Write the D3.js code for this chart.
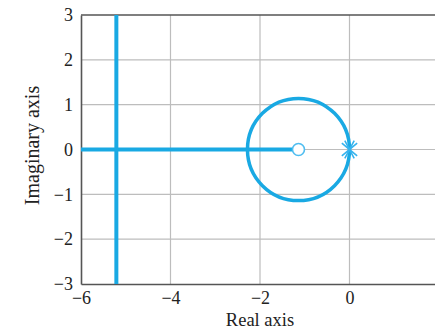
<!DOCTYPE html>
<html>
<head>
<meta charset="utf-8">
<script src="https://cdn.jsdelivr.net/npm/d3@7"></script>
<style>
  html, body { margin: 0; padding: 0; background: #fff; overflow: hidden; }
  svg { display: block; }
  text { font-family: "Liberation Serif", "DejaVu Serif", serif; fill: #222; }
</style>
</head>
<body>
<svg id="chart" width="435" height="331"></svg>
<script>
// Axis ticks
const xTicks = [-6, -4, -2, 0, 2];
const yTicks = [-3, -2, -1, 0, 1, 2, 3];

// Root locus branches (real, imaginary)
const realAxisBranch = [[-6, 0], [-1.14, 0]];
const verticalBranch = [[-5.21, -3], [-5.21, 3]];
const circleCenter = [-1.14, 0];
const circleRadius = 1.14;

// Open-loop zeros and poles
const zeros = [[-1.14, 0]];
const poles = [[0, 0], [0, 0]];

const svg = d3.select("#chart");
const margin = { left: 81, top: 15, right: -4, bottom: 47 };
const W = 435, H = 331;

const x = d3.scaleLinear().domain([-6, 2]).range([margin.left, W - margin.right]);
const y = d3.scaleLinear().domain([-3, 3]).range([H - margin.bottom, margin.top]);

const blue = "#19a9e3";
const fmt = d => d < 0 ? "\u2212" + Math.abs(d) : d;

// Grid
svg.append("g").selectAll("line").data(xTicks.slice(1)).join("line")
  .attr("x1", d => x(d)).attr("x2", d => x(d))
  .attr("y1", y(3)).attr("y2", y(-3))
  .attr("stroke", "#bdbdbd").attr("stroke-width", 1.2);
svg.append("g").selectAll("line").data(yTicks.slice(1, -1)).join("line")
  .attr("x1", x(-6)).attr("x2", x(2))
  .attr("y1", d => y(d)).attr("y2", d => y(d))
  .attr("stroke", "#bdbdbd").attr("stroke-width", 1.2);

// Axes (frame)
const xAxis = d3.axisBottom(x).tickValues(xTicks).tickSize(0).tickPadding(5).tickFormat(fmt);
const yAxis = d3.axisLeft(y).tickValues(yTicks).tickSize(0).tickPadding(8).tickFormat(fmt);

const gx = svg.append("g").attr("transform", `translate(0,${y(-3)})`).call(xAxis);
const gy = svg.append("g").attr("transform", `translate(${x(-6)},0)`).call(yAxis);
[gx, gy].forEach(g => {
  g.select(".domain").attr("stroke", "#555").attr("stroke-width", 1.6);
  g.selectAll("text").attr("font-family", "Liberation Serif").attr("font-size", 18).attr("fill", "#222");
});
gx.selectAll("text").attr("dy", "0.85em");
svg.append("line")
  .attr("x1", x(-6)).attr("x2", x(2)).attr("y1", y(3)).attr("y2", y(3))
  .attr("stroke", "#555").attr("stroke-width", 1.6);

// Locus branches
const line = d3.line().x(d => x(d[0])).y(d => y(d[1]));
svg.append("path").datum(realAxisBranch).attr("d", line)
  .attr("fill", "none").attr("stroke", blue).attr("stroke-width", 4);
svg.append("path").datum(verticalBranch).attr("d", line)
  .attr("fill", "none").attr("stroke", blue).attr("stroke-width", 4);
svg.append("ellipse")
  .attr("cx", x(circleCenter[0])).attr("cy", y(circleCenter[1]))
  .attr("rx", x(circleRadius) - x(0)).attr("ry", y(0) - y(circleRadius))
  .attr("fill", "none").attr("stroke", blue).attr("stroke-width", 3.5);

// Zero markers
svg.append("g").selectAll("circle").data(zeros).join("circle")
  .attr("cx", d => x(d[0])).attr("cy", d => y(d[1])).attr("r", 6)
  .attr("fill", "#fff").attr("stroke", "#4fbdf0").attr("stroke-width", 1.6);

// Pole markers (double pole drawn as two crosses at different angles)
const angles = [40, 62];
svg.append("g").selectAll("path").data(poles).join("path")
  .attr("d", (d, i) => {
    const a = angles[i] * Math.PI / 180, r = 10;
    const cx = x(d[0]), cy = y(d[1]);
    const dx = r * Math.cos(a), dy = r * Math.sin(a);
    return `M${cx - dx},${cy - dy}L${cx + dx},${cy + dy}M${cx - dx},${cy + dy}L${cx + dx},${cy - dy}`;
  })
  .attr("fill", "none").attr("stroke", "#35b3ee").attr("stroke-width", 1.6);

// Axis titles
svg.append("text").attr("x", (x(-6) + x(2)) / 2).attr("y", 326)
  .attr("text-anchor", "middle").attr("font-size", 18.5).text("Real axis");
svg.append("text")
  .attr("transform", `translate(39,${(y(3) + y(-3)) / 2 - 4}) rotate(-90)`)
  .attr("text-anchor", "middle").attr("font-size", 20).text("Imaginary axis");
</script>
</body>
</html>
